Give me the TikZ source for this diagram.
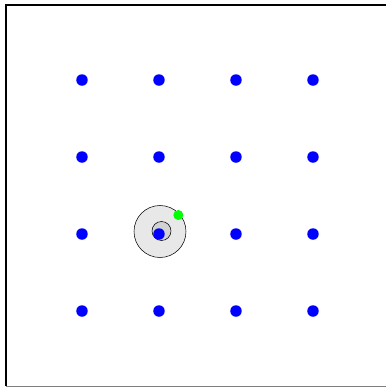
\documentclass[tikz,border=0pt]{standalone}
\usepackage{tikz}
\usepackage{xcolor}

\begin{document}
\begin{tikzpicture}[x=0.75pt,y=0.75pt,yscale=-1,xscale=1,
  griddot/.style={circle,fill={rgb, 255:red, 0; green, 0; blue, 255 },inner sep=0pt,minimum size=11.5pt*0.75},
  probedot/.style={circle,fill={rgb, 255:red, 0; green, 255; blue, 0 },inner sep=0pt,minimum size=10pt*0.75}]
\useasboundingbox (0,0) rectangle (386,387);

%Frame
\draw [line width=0.9] (6,386) -- (6,5) -- (386,5) ;
\draw [color={rgb, 255:red, 128; green, 128; blue, 128 }] (6,386) -- (386,386) ;

%Outer ring
\draw  [fill={rgb, 255:red, 232; green, 232; blue, 232 }] (160,231.5) circle (26) ;
%Inner ring
\draw  [fill={rgb, 255:red, 210; green, 210; blue, 210 }] (161.5,231) circle (9.5) ;

%Grid of dots
\foreach \i in {1,...,4}
  \foreach \j in {1,...,4}
    \node [griddot] (d\i\j) at (5+77*\i,3+77*\j) {};

% Probe
\node [probedot] (probe) at (178.3,215) {};

\end{tikzpicture}
\end{document}
